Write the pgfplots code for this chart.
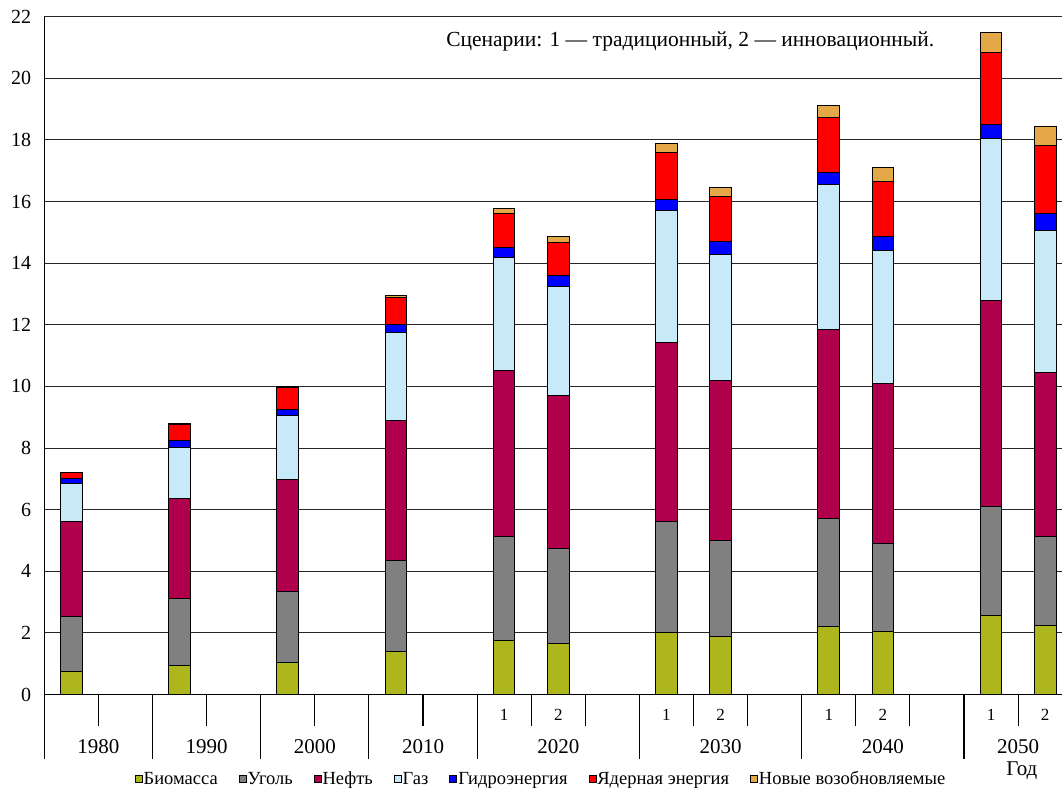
\documentclass[border=0pt]{standalone}
\usepackage{fontspec}
\setmainfont{Liberation Serif}
\usepackage{pgfplots}
\pgfplotsset{compat=1.18}
\definecolor{cbio}{RGB}{174,182,30}
\definecolor{ccoal}{RGB}{128,128,128}
\definecolor{coil}{RGB}{176,0,76}
\definecolor{cgas}{RGB}{200,233,248}
\definecolor{chyd}{RGB}{0,0,255}
\definecolor{cnuc}{RGB}{255,0,0}
\definecolor{cren}{RGB}{228,168,72}
\begin{document}
\begin{tikzpicture}
\path[use as bounding box] (0,0) rectangle (1062pt,789pt);
\begin{axis}[
  at={(44.3pt,94.5pt)}, anchor=south west,
  scale only axis, width=1017.7pt, height=677.8pt,
  xmin=-0.5, xmax=18.311, ymin=0, ymax=22,
  clip=false,
  ybar stacked, bar width=0.4,
  axis x line*=bottom, axis y line*=left,
  axis line style={black, line width=1.3pt},
  ytick={0,2,...,22},
  ymajorgrids, grid style={black!85, line width=0.9pt},
  major tick length=0pt,
  xtick={8,9,11,12,14,15,17,18},
  xticklabels={1,2,1,2,1,2,1,2},
  /pgf/number format/assume math mode=true,
  yticklabel style={font=\fontsize{20}{20}\selectfont, inner sep=0pt, anchor=east, xshift=-13pt},
  xticklabel style={font=\fontsize{17}{17}\selectfont, inner sep=0pt, anchor=base, yshift=-26.2pt},
  legend columns=-1,
  legend style={draw=none, fill=none, at={(0.4876,-0.1243)}, anchor=center,
    font=\fontsize{18.5}{18.5}\selectfont, inner sep=0pt,
    nodes={inner sep=1pt},
    /tikz/every even column/.append style={column sep=20pt}},
  legend image code/.code={\draw[#1, draw=black, line width=0.8pt] (0pt,-3.5pt) rectangle (7pt,3.5pt);},
  every axis plot/.append style={draw=black, line width=1pt},
]
\addplot[fill=cbio] coordinates {(0,0.74) (2,0.93) (4,1.03) (6,1.39) (8,1.74) (9,1.66) (11,2.00) (12,1.88) (14,2.20) (15,2.03) (17,2.57) (18,2.25)};
\addplot[fill=ccoal] coordinates {(0,1.78) (2,2.17) (4,2.30) (6,2.97) (8,3.40) (9,3.07) (11,3.60) (12,3.13) (14,3.50) (15,2.86) (17,3.54) (18,2.89)};
\addplot[fill=coil] coordinates {(0,3.10) (2,3.25) (4,3.64) (6,4.53) (8,5.38) (9,4.99) (11,5.81) (12,5.17) (14,6.14) (15,5.19) (17,6.67) (18,5.30)};
\addplot[fill=cgas] coordinates {(0,1.23) (2,1.68) (4,2.07) (6,2.86) (8,3.66) (9,3.53) (11,4.31) (12,4.10) (14,4.71) (15,4.32) (17,5.28) (18,4.63)};
\addplot[fill=chyd] coordinates {(0,0.17) (2,0.20) (4,0.22) (6,0.27) (8,0.34) (9,0.35) (11,0.36) (12,0.42) (14,0.38) (15,0.45) (17,0.44) (18,0.53)};
\addplot[fill=cnuc] coordinates {(0,0.17) (2,0.54) (4,0.70) (6,0.85) (8,1.10) (9,1.07) (11,1.51) (12,1.48) (14,1.79) (15,1.81) (17,2.35) (18,2.21)};
\addplot[fill=cren] coordinates {(0,0.03) (2,0.03) (4,0.04) (6,0.08) (8,0.15) (9,0.18) (11,0.28) (12,0.29) (14,0.40) (15,0.44) (17,0.64) (18,0.64)};
\legend{Биомасса,Уголь,Нефть,Газ,Гидроэнергия,Ядерная энергия,Новые возобновляемые}
\pgfplotsinvokeforeach{0.5,2.5,4.5,6.5,8.5,9.5,11.5,12.5,14.5,15.5,17.5}{
  \draw[black, line width=1.1pt] (axis cs:#1,0) -- ++(0pt,-32pt);
}
\pgfplotsinvokeforeach{-0.5,1.5,3.5,5.5,7.5,10.5,13.5,16.5}{
  \draw[black, line width=1.1pt] (axis cs:#1,0) -- ++(0pt,-64pt);
}
\node[font=\fontsize{21}{21}\selectfont, anchor=base, inner sep=0pt, yshift=-58.8pt] at (axis cs:0.5,0) {1980};
\node[font=\fontsize{21}{21}\selectfont, anchor=base, inner sep=0pt, yshift=-58.8pt] at (axis cs:2.5,0) {1990};
\node[font=\fontsize{21}{21}\selectfont, anchor=base, inner sep=0pt, yshift=-58.8pt] at (axis cs:4.5,0) {2000};
\node[font=\fontsize{21}{21}\selectfont, anchor=base, inner sep=0pt, yshift=-58.8pt] at (axis cs:6.5,0) {2010};
\node[font=\fontsize{21}{21}\selectfont, anchor=base, inner sep=0pt, yshift=-58.8pt] at (axis cs:9,0) {2020};
\node[font=\fontsize{21}{21}\selectfont, anchor=base, inner sep=0pt, yshift=-58.8pt] at (axis cs:12,0) {2030};
\node[font=\fontsize{21}{21}\selectfont, anchor=base, inner sep=0pt, yshift=-58.8pt] at (axis cs:15,0) {2040};
\node[font=\fontsize{21}{21}\selectfont, anchor=base, inner sep=0pt, yshift=-58.8pt] at (axis cs:17.5,0) {2050};
\node[font=\fontsize{21}{21}\selectfont, anchor=base, inner sep=0pt, yshift=-80.5pt] at (axis cs:17.57,0) {Год};
\node[font=\fontsize{21.5}{21.5}\selectfont, inner sep=0pt] at (axis cs:11.44,21.21) {Сценарии: 1 — традиционный, 2 — инновационный.};
\end{axis}
\end{tikzpicture}
\end{document}
